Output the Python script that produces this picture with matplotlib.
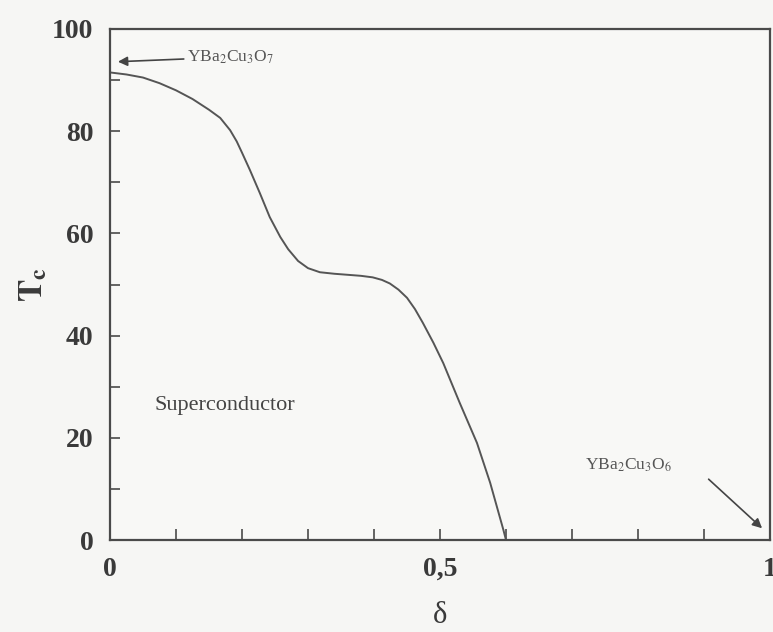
import matplotlib
matplotlib.use("Agg")
import matplotlib.pyplot as plt
import numpy as np

plt.rcParams['font.family'] = ['Liberation Serif', 'DejaVu Serif']
plt.rcParams['mathtext.fontset'] = 'stix'

# Critical temperature versus oxygen deficiency delta in YBa2Cu3O(7-delta)
delta = [0.0, 0.025, 0.05, 0.075, 0.1, 0.125, 0.15, 0.167, 0.182, 0.192,
         0.2, 0.212, 0.227, 0.242, 0.258, 0.27, 0.285, 0.3, 0.318, 0.34,
         0.36, 0.38, 0.398, 0.412, 0.424, 0.437, 0.45, 0.462, 0.474, 0.49,
         0.505, 0.53, 0.556, 0.576, 0.596, 0.6]
tc = [91.5, 91.1, 90.5, 89.4, 88.0, 86.3, 84.2, 82.6, 80.2, 78.0,
      75.8, 72.4, 67.9, 63.2, 59.3, 56.9, 54.6, 53.2, 52.4, 52.1,
      51.9, 51.7, 51.4, 50.9, 50.2, 49.0, 47.4, 45.2, 42.5, 38.6,
      34.6, 26.8, 19.0, 11.2, 2.0, 0.0]

xticks_major = [0, 0.5, 1]
xtick_labels = ["0", "0,5", "1"]
yticks_major = [0, 20, 40, 60, 80, 100]

ink = '#4a4a4a'

fig = plt.figure(figsize=(7.73, 6.32), dpi=100, facecolor='#f6f6f4')
ax = fig.add_axes([110/773, 92/632, 660/773, 511/632])
ax.set_facecolor('#f8f8f6')

ax.plot(delta, tc, color='#555555', lw=1.4, solid_joinstyle='round')

ax.set_xlim(0, 1)
ax.set_ylim(0, 100)

ax.set_xticks(xticks_major)
ax.set_xticklabels(xtick_labels)
ax.set_xticks(np.arange(0.1, 1.0, 0.1)[[0, 1, 2, 3, 5, 6, 7, 8]], minor=True)
ax.set_yticks(yticks_major)
ax.set_yticks(np.arange(10, 100, 20), minor=True)

ax.tick_params(axis='x', which='both', direction='in', length=8, width=1.2,
               color=ink, pad=12, labelsize=20, labelcolor='#3a3a3a')
ax.tick_params(axis='y', which='both', direction='in', length=7, width=1.2,
               color=ink, pad=12, labelsize=20, labelcolor='#3a3a3a')
for lab in ax.get_xticklabels() + ax.get_yticklabels():
    lab.set_fontweight('bold')

for sp in ax.spines.values():
    sp.set_color(ink)
    sp.set_linewidth(1.6)

ax.set_xlabel('δ', fontsize=22, color='#3a3a3a', labelpad=14)
ax.set_ylabel(r'$\mathbf{T}_\mathbf{c}$', fontsize=24, color='#3a3a3a', labelpad=2)

ax.annotate(r'YBa$_2$Cu$_3$O$_7$', xy=(0.012, 93.6), xytext=(0.116, 94.5),
            fontsize=12.5, color='#555555', va='center',
            arrowprops=dict(arrowstyle='-|>', color='#444444', lw=1.2,
                            mutation_scale=14, shrinkA=0, shrinkB=0))
ax.text(0.72, 14.7, r'YBa$_2$Cu$_3$O$_6$', fontsize=12.5, color='#555555',
        va='center')
ax.annotate('', xy=(0.988, 2.3), xytext=(0.907, 11.9),
            arrowprops=dict(arrowstyle='-|>', color='#444444', lw=1.2,
                            mutation_scale=14, shrinkA=0, shrinkB=0))
ax.text(0.068, 26.4, 'Superconductor', fontsize=16, color='#444444',
        va='center')

fig.savefig('out.png', dpi=100, facecolor=fig.get_facecolor())
